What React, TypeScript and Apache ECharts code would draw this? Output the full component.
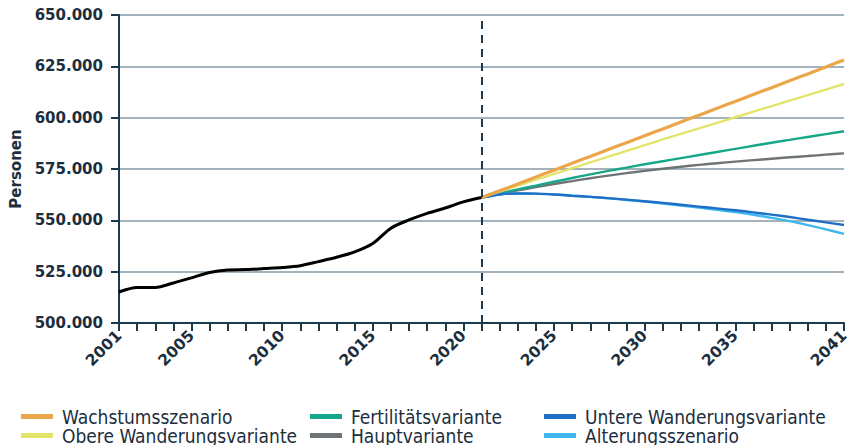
import React, { useEffect, useRef } from "react";
import * as echarts from "echarts";

const histYears = [2001, 2002, 2003, 2004, 2005, 2006, 2007, 2008, 2009, 2010, 2011, 2012, 2013, 2014, 2015, 2016, 2017, 2018, 2019, 2020, 2021];
const histValues = [515100, 517300, 517300, 519500, 522000, 524600, 525800, 526000, 526500, 527000, 527900, 529900, 532000, 534600, 538700, 546200, 550200, 553400, 556000, 559000, 561100];

const projYears = [2021, 2022, 2023, 2024, 2025, 2026, 2027, 2028, 2029, 2030, 2031, 2032, 2033, 2034, 2035, 2036, 2037, 2038, 2039, 2040, 2041];
const wachstum = [561100, 564400, 567700, 571100, 574400, 577800, 581100, 584500, 587800, 591200, 594500, 597900, 601200, 604600, 607900, 611300, 614600, 618000, 621300, 624700, 628100];
const obere = [561100, 564000, 566900, 569800, 572600, 575400, 578200, 581000, 583800, 586600, 589400, 592100, 594800, 597500, 600200, 602900, 605600, 608300, 611000, 613700, 616400];
const fertilitaet = [561100, 563100, 565100, 566900, 568800, 570600, 572400, 574100, 575700, 577300, 578800, 580300, 581800, 583300, 584800, 586300, 587800, 589200, 590600, 592000, 593400];
const haupt = [561100, 562900, 564600, 566200, 567700, 569100, 570500, 571800, 573000, 574100, 575100, 576100, 577000, 577800, 578600, 579300, 580000, 580700, 581300, 582000, 582600];
const untere = [561100, 562600, 563100, 563000, 562600, 562000, 561400, 560800, 560100, 559300, 558500, 557600, 556700, 555800, 554900, 553900, 552800, 551600, 550300, 549000, 547700];
const alterung = [561100, 562600, 563100, 563000, 562600, 562000, 561400, 560700, 559900, 559100, 558200, 557200, 556200, 555100, 554000, 552700, 551200, 549600, 547700, 545600, 543400];

const labelYears = [2001, 2005, 2010, 2015, 2020, 2025, 2030, 2035, 2041];
const baseYear = 2021;

const seriesNames = [
  "Wachstumsszenario",
  "Obere Wanderungsvariante",
  "Fertilitätsvariante",
  "Hauptvariante",
  "Untere Wanderungsvariante",
  "Alterungsszenario",
];
const seriesColors = ["#eba64a", "#e2e56a", "#16a68a", "#6e7476", "#1f6fc6", "#3fb7ef"];

const AXIS = "#1d3a4c";
const TEXT = "#1c2e3d";

function pairs(xs: number[], ys: number[]) {
  return xs.map((x, i) => [x, ys[i]]);
}

function fmtDe(v: number) {
  return String(v).replace(/\B(?=(\d{3})+(?!\d))/g, ".");
}

export default function App() {
  const ref = useRef<HTMLDivElement>(null);
  useEffect(() => {
    if (!ref.current) return;
    const chart = echarts.init(ref.current, null, { renderer: "svg" });
    const projData = [wachstum, obere, fertilitaet, haupt, untere, alterung];
    const drawOrder = [3, 2, 5, 4, 1, 0];
    const legendFont = {
      fontFamily: "DejaVu Sans Condensed",
      fontSize: 19,
      color: TEXT,
      lineHeight: 17,
      padding: [0, 0, 0, 4],
    };
    const legendCommon = {
      orient: "vertical" as const,
      top: 407,
      height: 40,
      padding: 0,
      itemGap: 0,
      itemWidth: 32,
      itemHeight: 5,
      icon: "rect",
      textStyle: legendFont,
    };
    chart.setOption({
      animation: false,
      backgroundColor: "#ffffff",
      grid: { left: 116, right: 13, top: 15, bottom: 122, containLabel: false },
      xAxis: {
        type: "value",
        min: 2001,
        max: 2041,
        interval: 1,
        splitLine: { show: false },
        axisLine: { lineStyle: { color: AXIS, width: 2 } },
        axisTick: { show: true, length: 8, lineStyle: { color: AXIS, width: 2 } },
        axisLabel: {
          rotate: 45,
          margin: 10,
          fontFamily: "DejaVu Sans",
          fontWeight: "bold",
          fontSize: 15.5,
          color: TEXT,
          showMinLabel: true,
          showMaxLabel: true,
          formatter: (v: number) => (labelYears.includes(v) ? String(v) : ""),
        },
      },
      yAxis: {
        type: "value",
        min: 500000,
        max: 650000,
        interval: 25000,
        name: "Personen",
        nameLocation: "middle",
        nameRotate: 90,
        nameGap: 96,
        nameTextStyle: { fontFamily: "DejaVu Sans", fontWeight: "bold", fontSize: 15, color: TEXT },
        axisLine: { show: true, lineStyle: { color: AXIS, width: 2 } },
        axisTick: { show: true, length: 8, lineStyle: { color: AXIS, width: 2 } },
        axisLabel: {
          margin: 16,
          fontFamily: "DejaVu Sans",
          fontWeight: "bold",
          fontSize: 15,
          color: TEXT,
          formatter: (v: number) => fmtDe(v),
        },
        splitLine: { show: true, lineStyle: { color: "#a3b2bb", width: 2 } },
      },
      legend: [
        { ...legendCommon, left: 21, data: [seriesNames[0], seriesNames[1]] },
        { ...legendCommon, left: 310, data: [seriesNames[2], seriesNames[3]] },
        { ...legendCommon, left: 544, data: [seriesNames[4], seriesNames[5]] },
      ],
      series: [
        ...drawOrder.map((i) => ({
          name: seriesNames[i],
          type: "line",
          data: pairs(projYears, projData[i]),
          showSymbol: false,
          smooth: 0.2,
          color: seriesColors[i],
          lineStyle: { color: seriesColors[i], width: i === 0 ? 3.2 : 2.4 },
          z: 3,
        })),
        {
          name: "Bestand",
          type: "line",
          data: pairs(histYears, histValues),
          showSymbol: false,
          smooth: 0.3,
          color: "#000000",
          lineStyle: { color: "#000000", width: 3 },
          z: 4,
          markLine: {
            silent: true,
            symbol: "none",
            label: { show: false },
            lineStyle: { color: AXIS, type: [8, 6], width: 2 },
            data: [{ xAxis: baseYear }],
          },
        },
      ],
    });
    return () => chart.dispose();
  }, []);
  return (
    <div
      ref={ref}
      style={{ position: "fixed", left: 0, top: 0, width: 857, height: 445 }}
    />
  );
}
